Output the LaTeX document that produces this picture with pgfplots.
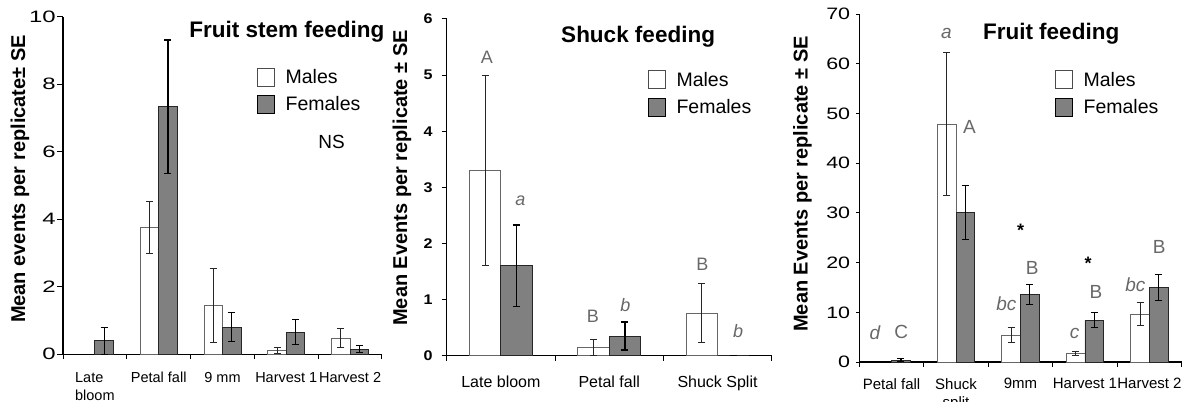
\documentclass[border=0pt]{standalone}
\usepackage{fontspec}
\setmainfont{Liberation Sans}
\usepackage{graphicx}
\usepackage{pgfplots}
\pgfplotsset{compat=1.18}
\definecolor{fem}{HTML}{808080}
\definecolor{lett}{HTML}{686868}
\newcommand\fs[1]{\fontsize{#1bp}{#1bp}\selectfont}
\tikzset{
  lt/.style={text=lett, font=\fs{#1}},
  lti/.style={text=lett, font=\itshape\fs{#1}},
}
\pgfplotsset{
  legimg/.style={legend image code/.code={\draw[##1,line width=0.9bp] (0bp,-9bp) rectangle (17bp,9bp); \path[draw=none,fill=none] (17bp,0bp) -- (26bp,0bp);}},
  malebar/.style={ybar, bar width=0.29, bar shift=0pt, fill=white, draw=black!60, line width=0.8bp, forget plot,
    error bars/y dir=both, error bars/y explicit,
    error bars/error bar style={black!85, line width=0.9bp},
    error bars/error mark options={black!85, line width=0.9bp, mark size=3.5bp, rotate=90}},
  fembar/.style={ybar, bar width=0.29, bar shift=0pt, fill=fem, draw=black!85, line width=0.9bp, forget plot,
    error bars/y dir=both, error bars/y explicit,
    error bars/error bar style={black, line width=1.2bp},
    error bars/error mark options={black, line width=1.2bp, mark size=3.5bp, rotate=90}},
  panel/.style={scale only axis, axis x line*=bottom, axis y line*=left, clip=false,
    tick align=outside, axis line style={line width=1.2bp},
    major x tick style={draw=none}, minor tick length=5bp,
    minor x tick style={black, line width=1bp}, ytick style={black, line width=1bp},
    /pgf/number format/assume math mode=true,
    legend style={draw=none, fill=none, anchor=north west, inner sep=0pt, font=\fs{19.5}, row sep=8bp},
    legend cell align=left,
    ylabel style={anchor=center, font=\bfseries\fs{20}},
    title style={anchor=base, font=\bfseries\fs{22.5}},
    ymin=0},
}
\begin{document}
\begin{tikzpicture}
\path[use as bounding box] (0,0) rectangle (1195bp,402bp);
% ---------- Panel 1 ----------
\begin{axis}[panel, at={(63bp,47.8bp)}, anchor=south west, width=319bp, height=337.5bp,
  xmin=-0.5, xmax=4.5, ymax=10, ytick={0,2,...,10}, xtick={0,...,4},
  xticklabels={{Late\\bloom},Petal fall,9 mm,Harvest 1,Harvest 2},
  xticklabel style={font=\fontsize{14.5bp}{18bp}\selectfont, align=left, anchor=north, inner sep=0pt, yshift=-12bp},
  minor xtick={-0.5,0.5,...,4.5},
  major tick length=6bp,
  yticklabel={\scalebox{1.45}[1]{\pgfmathprintnumber{\tick}}},
  yticklabel style={font=\fs{16.5}, inner sep=1bp},
  ylabel={Mean events per replicate± SE},
  ylabel style={at={(axis description cs:-0.135,0.519)}},
  title={Fruit stem feeding}, title style={at={(axis description cs:0.702,0.920)}},
  legend style={at={(axis description cs:0.608,0.851)}},
]
\addlegendimage{legimg, fill=white, draw=black!70}
\addlegendimage{legimg, fill=fem, draw=black}
\legend{Males,Females}
% males at category-0.145, females at category+0.145
\addplot[malebar] coordinates {(0.855,3.76) +- (0,0.77) (1.855,1.44) +- (0,1.10) (2.855,0.10) +- (0,0.09) (3.855,0.48) +- (0,0.28)};
\addplot[fembar] coordinates {(0.145,0.40) +- (0,0.40) (1.145,7.33) +- (0,1.98) (2.145,0.80) +- (0,0.43) (3.145,0.65) +- (0,0.37) (4.145,0.15) +- (0,0.11)};
\node[font=\fs{19}] at (axis cs:3.71,6.3) {NS};
\end{axis}
% ---------- Panel 2 ----------
\begin{axis}[panel, at={(446.7bp,46.3bp)}, anchor=south west, width=325bp, height=336.7bp,
  xmin=-0.5, xmax=2.5, ymax=6, ytick={0,1,...,6}, xtick={0,1,2},
  xticklabels={Late bloom,Petal fall,Shuck Split},
  xticklabel style={font=\fs{16}, anchor=north, inner sep=0pt, yshift=-15bp},
  minor xtick={-0.5,0.5,...,2.5},
  major tick length=5bp,
  yticklabel={\scalebox{1.15}[1]{\bfseries\pgfmathprintnumber{\tick}}},
  yticklabel style={font=\bfseries\fs{14}, inner sep=0pt, xshift=-9bp},
  ylabel={Mean Events per replicate ± SE},
  ylabel style={at={(axis description cs:-0.1375,0.528)}},
  title={Shuck feeding}, title style={at={(axis description cs:0.589,0.911)}},
  legend style={at={(axis description cs:0.619,0.849)}},
]
\addlegendimage{legimg, fill=white, draw=black!70}
\addlegendimage{legimg, fill=fem, draw=black}
\legend{Males,Females}
\addplot[malebar] coordinates {(-0.145,3.30) +- (0,1.70) (0.855,0.15) +- (0,0.14) (1.855,0.76) +- (0,0.52)};
\addplot[fembar] coordinates {(0.145,1.60) +- (0,0.73) (1.145,0.35) +- (0,0.25) (2.145,0) +- (0,0)};
\node[lt=18] at (axis cs:-0.13,5.32) {A};
\node[lti=18] at (axis cs:0.18,2.77) {a};
\node[lt=18] at (axis cs:0.85,0.70) {B};
\node[lti=18] at (axis cs:1.15,0.90) {b};
\node[lt=18] at (axis cs:1.86,1.62) {B};
\node[lti=18] at (axis cs:2.19,0.44) {b};
\end{axis}
% ---------- Panel 3 ----------
\begin{axis}[panel, at={(859.3bp,40bp)}, anchor=south west, width=322.4bp, height=347.7bp,
  xmin=-0.5, xmax=4.5, ymax=70, ytick={0,10,...,70}, xtick={0,...,4},
  xticklabels={Petal fall,{Shuck\\split},9mm,Harvest 1,Harvest 2},
  xticklabel style={font=\fontsize{15bp}{18bp}\selectfont, align=center, anchor=north, inner sep=0pt, yshift=-13bp},
  minor xtick={-0.5,0.5,...,4.5},
  major tick length=3bp,
  yticklabel={\scalebox{1.3}[1]{\pgfmathprintnumber{\tick}}},
  yticklabel style={font=\fs{16.5}, inner sep=0pt, xshift=-6bp},
  ylabel={Mean Events per replicate ± SE},
  ylabel style={at={(axis description cs:-0.176,0.512)}},
  title={Fruit feeding}, title style={at={(axis description cs:0.595,0.910)}},
  legend style={at={(axis description cs:0.607,0.840)}},
]
\addlegendimage{legimg, fill=white, draw=black!70}
\addlegendimage{legimg, fill=fem, draw=black}
\legend{Males,Females}
\addplot[malebar] coordinates {(0.855,47.9) +- (0,14.4) (1.855,5.37) +- (0,1.5) (2.855,1.74) +- (0,0.4) (3.855,9.66) +- (0,2.3)};
\addplot[fembar] coordinates {(0.145,0.4) +- (0,0.35) (1.145,30.1) +- (0,5.4) (2.145,13.6) +- (0,2.0) (3.145,8.4) +- (0,1.5) (4.145,15.0) +- (0,2.6)};
\node[lti=19] at (axis cs:-0.26,5.8) {d};
\node[lt=19] at (axis cs:0.15,6.1) {C};
\node[lti=19] at (axis cs:0.85,66.2) {a};
\node[lt=19] at (axis cs:1.21,47.4) {A};
\node[font=\bfseries\fs{18}] at (axis cs:2.0,26.6) {*};
\node[lt=19] at (axis cs:2.18,18.9) {B};
\node[lti=19] at (axis cs:1.78,11.8) {bc};
\node[lti=19] at (axis cs:2.84,5.8) {c};
\node[font=\bfseries\fs{18}] at (axis cs:3.05,19.9) {*};
\node[lt=19] at (axis cs:3.17,14.0) {B};
\node[lti=19] at (axis cs:3.78,15.6) {bc};
\node[lt=19] at (axis cs:4.15,23.1) {B};
\end{axis}
\end{tikzpicture}
\end{document}
